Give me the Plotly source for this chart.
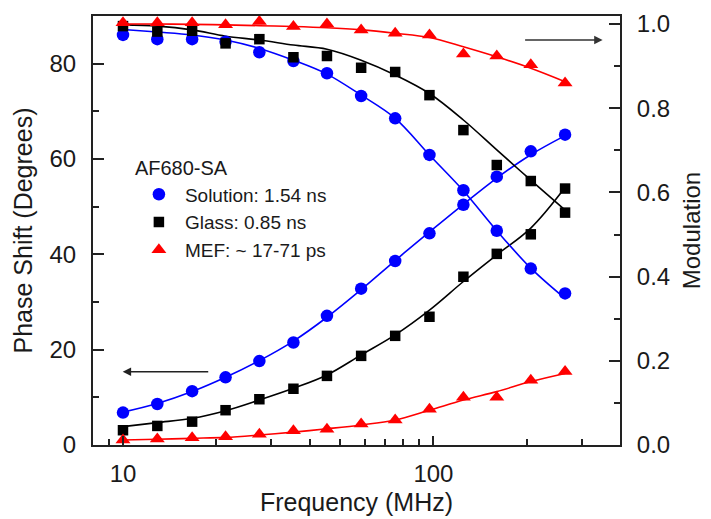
import plotly.graph_objects as go

freq = [10, 12.9, 16.7, 21.4, 27.5, 35.4, 45.4, 58.5, 75.3, 97.1, 124.9, 160.0, 205.9, 265.5]

# Phase shift (degrees) - left axis
sol_phase = [6.8, 8.6, 11.3, 14.2, 17.6, 21.5, 27.1, 32.8, 38.6, 44.4, 50.4, 56.3, 61.6, 65.1]
glass_phase = [3.1, 4.0, 4.9, 7.3, 9.6, 11.8, 14.5, 18.7, 22.9, 26.9, 35.3, 40.1, 44.2, 53.8]
mef_phase = [1.05, 1.26, 1.53, 1.75, 2.25, 3.0, 3.3, 4.4, 5.25, 7.5, 10.0, 10.0, 13.6, 15.4]

# Modulation - right axis
sol_mod = [0.974, 0.964, 0.964, 0.958, 0.933, 0.912, 0.883, 0.829, 0.776, 0.689, 0.605, 0.509, 0.419, 0.360]
glass_mod = [0.995, 0.982, 0.984, 0.954, 0.964, 0.921, 0.924, 0.896, 0.886, 0.831, 0.748, 0.665, 0.627, 0.552]
mef_mod = [1.003, 1.003, 1.003, 0.998, 1.006, 0.994, 1.0, 0.986, 0.978, 0.974, 0.929, 0.924, 0.903, 0.860]

# Fitted curves
sol_phase_fit = [6.9, 8.7, 11.2, 14.2, 17.7, 21.8, 26.8, 32.6, 38.7, 44.7, 50.5, 56.0, 60.9, 64.9]
glass_phase_fit = [3.85, 4.7, 5.6, 7.2, 9.45, 11.9, 14.7, 18.9, 23.1, 28.3, 34.3, 39.9, 45.5, 54.0]
mef_phase_fit = [1.05, 1.2, 1.4, 1.6, 2.1, 2.7, 3.4, 4.2, 5.25, 7.3, 9.45, 11.2, 13.3, 15.0]
sol_mod_fit = [0.987, 0.981, 0.974, 0.962, 0.942, 0.914, 0.881, 0.831, 0.776, 0.689, 0.604, 0.509, 0.420, 0.348]
glass_mod_fit = [0.998, 0.995, 0.986, 0.971, 0.962, 0.950, 0.940, 0.914, 0.879, 0.835, 0.772, 0.701, 0.629, 0.558]
mef_mod_fit = [1.0, 1.0, 0.999, 0.998, 0.996, 0.994, 0.991, 0.986, 0.978, 0.968, 0.946, 0.922, 0.895, 0.863]

names = ["Solution: 1.54 ns", "Glass: 0.85 ns", "MEF: ~ 17-71 ps"]
colors = ["#0000ff", "#000000", "#ff0000"]
symbols = ["circle", "square", "triangle-up"]
msizes = [12.5, 10.5, 13]

FONT = "Liberation Sans, Arial, sans-serif"
TXT = "#1a1a1a"

fig = go.Figure()

phases = [sol_phase, glass_phase, mef_phase]
mods = [sol_mod, glass_mod, mef_mod]
pfits = [sol_phase_fit, glass_phase_fit, mef_phase_fit]
mfits = [sol_mod_fit, glass_mod_fit, mef_mod_fit]

for i in range(3):
    fig.add_trace(go.Scatter(x=freq, y=pfits[i], mode="lines", line=dict(color=colors[i], width=1.6, shape="spline"),
                             showlegend=False, hoverinfo="skip", yaxis="y"))
    fig.add_trace(go.Scatter(x=freq, y=mfits[i], mode="lines", line=dict(color=colors[i], width=1.6, shape="spline"),
                             showlegend=False, hoverinfo="skip", yaxis="y2"))

for i in range(3):
    fig.add_trace(go.Scatter(x=freq, y=phases[i], mode="markers", name=names[i],
                             marker=dict(color=colors[i], symbol=symbols[i], size=msizes[i], line=dict(width=0)),
                             legendgroup=names[i], yaxis="y"))
    fig.add_trace(go.Scatter(x=freq, y=mods[i], mode="markers", name=names[i],
                             marker=dict(color=colors[i], symbol=symbols[i], size=msizes[i], line=dict(width=0)),
                             legendgroup=names[i], showlegend=False, yaxis="y2"))

axis_common = dict(showline=True, linecolor="#222", linewidth=2, ticks="inside", tickwidth=1.5,
                   tickcolor="#222", showgrid=False, zeroline=False, automargin=False,
                   tickfont=dict(family=FONT, size=24, color=TXT))

fig.update_layout(
    width=711, height=519,
    margin=dict(l=93, r=91, t=16, b=74, autoexpand=False),
    paper_bgcolor="white", plot_bgcolor="white",
    font=dict(family=FONT, color=TXT),
    xaxis=dict(type="log", range=[0.9034, 2.601], tickvals=[10, 100], ticklen=9, mirror=True,
               minor=dict(tickvals=[9, 20, 30, 40, 50, 60, 70, 80, 90, 200, 300], ticks="inside",
                          ticklen=6, tickwidth=1.5, tickcolor="#222"),
               title=dict(text="Frequency (MHz)", font=dict(family=FONT, size=25, color=TXT), standoff=8),
               ticklabelstandoff=6,
               **axis_common),
    yaxis=dict(range=[0, 90], tickvals=[0, 20, 40, 60, 80], ticklen=11,
               minor=dict(tickvals=[10, 30, 50, 70, 90], ticks="inside", ticklen=6, tickwidth=1.5, tickcolor="#222"),
               title=dict(text="Phase Shift (Degrees)", font=dict(family=FONT, size=25, color=TXT), standoff=10),
               ticklabelstandoff=10,
               **axis_common),
    yaxis2=dict(range=[0, 1.019], overlaying="y", side="right", tickvals=[0, 0.2, 0.4, 0.6, 0.8, 1.0],
                tickformat=".1f", ticklen=11,
                minor=dict(tickvals=[0.1, 0.3, 0.5, 0.7, 0.9], ticks="inside", ticklen=6, tickwidth=1.5,
                           tickcolor="#222"),
                title=dict(text="Modulation", font=dict(family=FONT, size=24, color=TXT), standoff=14),
                ticklabelstandoff=10,
                **axis_common),
    legend=dict(x=0.0757, y=0.689, xanchor="left", yanchor="top", bgcolor="rgba(0,0,0,0)",
                font=dict(family=FONT, size=19, color=TXT),
                title=dict(text="AF680-SA", font=dict(family=FONT, size=20, color=TXT)),
                itemwidth=42, tracegroupgap=0),
    annotations=[
        dict(xref="paper", yref="paper", x=0.0564, y=0.1709, ax=87, ay=0, axref="pixel", ayref="pixel",
             text="", showarrow=True, arrowhead=2, arrowsize=1.2, arrowwidth=1.4, arrowcolor="#222"),
        dict(xref="paper", yref="paper", x=0.967, y=0.944, ax=-79, ay=0, axref="pixel", ayref="pixel",
             text="", showarrow=True, arrowhead=2, arrowsize=1.2, arrowwidth=1.4, arrowcolor="#333"),
    ],
)

fig.write_html("out.html", config={"displayModeBar": False},
               post_script="document.body.style.margin='0';document.body.style.padding='0';")
